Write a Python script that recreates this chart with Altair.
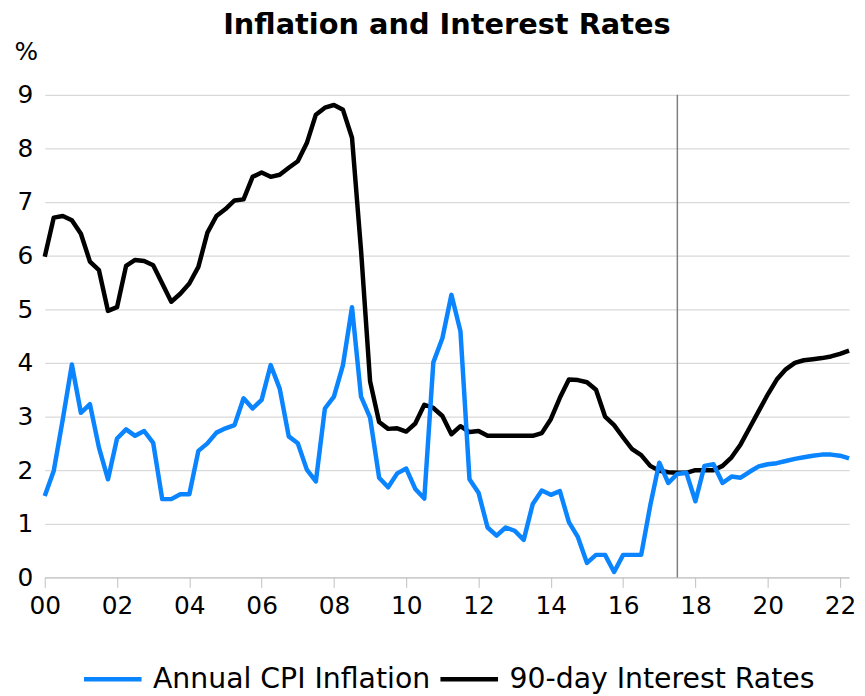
import altair as alt
import pandas as pd

# Quarterly observations, 2000 Q1 .. 2022 Q2
start_year = 2000
n_quarters = 90

rates_90day = [
    5.98, 6.71, 6.74, 6.66, 6.41, 5.89, 5.73, 4.97, 5.04, 5.81,
    5.92, 5.90, 5.82, 5.48, 5.14, 5.29, 5.48, 5.79, 6.43, 6.74,
    6.87, 7.03, 7.05, 7.47, 7.55, 7.47, 7.51, 7.64, 7.76, 8.10,
    8.63, 8.76, 8.81, 8.72, 8.20, 6.10, 3.66, 2.90, 2.77, 2.78,
    2.72, 2.87, 3.22, 3.16, 3.01, 2.67, 2.82, 2.71, 2.73, 2.64,
    2.64, 2.64, 2.64, 2.64, 2.64, 2.69, 2.95, 3.35, 3.69, 3.68,
    3.64, 3.50, 3.00, 2.84, 2.61, 2.39, 2.28, 2.08, 1.99, 1.96,
    1.95, 1.95, 2.00, 2.00, 2.00, 2.08, 2.24, 2.48, 2.79, 3.10,
    3.41, 3.69, 3.88, 4.00, 4.05, 4.07, 4.09, 4.12, 4.17, 4.23,
]

cpi_annual = [
    1.52, 1.99, 2.95, 3.97, 3.07, 3.23, 2.42, 1.83, 2.59, 2.76,
    2.64, 2.73, 2.51, 1.46, 1.46, 1.55, 1.55, 2.36, 2.50, 2.70,
    2.78, 2.84, 3.34, 3.15, 3.31, 3.96, 3.52, 2.63, 2.50, 2.01,
    1.79, 3.15, 3.37, 3.96, 5.04, 3.37, 2.98, 1.86, 1.68, 1.94,
    2.03, 1.65, 1.47, 4.01, 4.46, 5.27, 4.59, 1.83, 1.58, 0.93,
    0.78, 0.93, 0.87, 0.70, 1.37, 1.62, 1.54, 1.61, 1.03, 0.75,
    0.27, 0.42, 0.42, 0.10, 0.42, 0.42, 0.42, 1.34, 2.14, 1.76,
    1.93, 1.95, 1.42, 2.08, 2.11, 1.76, 1.88, 1.86, 1.97, 2.07,
    2.11, 2.13, 2.17, 2.21, 2.24, 2.27, 2.29, 2.29, 2.27, 2.22,
]

series_names = ["Annual CPI Inflation", "90-day Interest Rates"]
series_colors = ["#0A84FF", "#000000"]
year_ticks = list(range(2000, 2023))
y_ticks = list(range(0, 10))
marker_year = [2017.5]

years = [start_year + q / 4 for q in range(n_quarters)]
df = pd.DataFrame({
    "year": years * 2,
    "value": cpi_annual + rates_90day,
    "series": [series_names[0]] * n_quarters + [series_names[1]] * n_quarters,
})
marker_df = pd.DataFrame({"year": marker_year})

FONT = "DejaVu Sans"

x_enc = alt.X(
    "year:Q",
    scale=alt.Scale(domain=[2000, 2022.25], nice=False, zero=False),
    axis=alt.Axis(
        values=year_ticks,
        labelExpr="datum.value % 2 === 0 ? substring(toString(datum.value), 2) : ''",
        title=None,
        grid=False,
        domainColor="#BFBFBF",
        domainWidth=1,
        tickColor="#BFBFBF",
        tickSize=10,
        labelFontSize=25,
        labelFont=FONT,
        labelColor="#000000",
        labelPadding=6,
        labelOverlap=False,
        labelFlush=False,
    ),
)
y_enc = alt.Y(
    "value:Q",
    scale=alt.Scale(domain=[0, 9], nice=False),
    axis=alt.Axis(
        values=y_ticks,
        title="%",
        titleAngle=0,
        titleAlign="center",
        titleBaseline="alphabetic",
        titleX=-19,
        titleY=-36,
        titleFontSize=25,
        titleFont=FONT,
        titleFontWeight="normal",
        titleColor="#000000",
        grid=True,
        gridColor="#D9D9D9",
        gridWidth=1.3,
        domain=False,
        ticks=False,
        labelFontSize=25,
        labelFont=FONT,
        labelColor="#000000",
        labelPadding=12,
    ),
)
color_enc = alt.Color(
    "series:N",
    scale=alt.Scale(domain=series_names, range=series_colors),
    legend=alt.Legend(
        title=None,
        orient="none",
        direction="horizontal",
        legendX=37,
        legendY=557,
        symbolType="stroke",
        symbolSize=3364,
        symbolStrokeWidth=4.5,
        labelFontSize=28.5,
        labelFont=FONT,
        labelColor="#000000",
        labelOffset=9,
        columnPadding=0,
        labelLimit=400,
    ),
)

rule = alt.Chart(marker_df).mark_rule(color="#7F7F7F", strokeWidth=1.5).encode(x="year:Q")

black_line = alt.Chart(df).transform_filter(
    alt.datum.series == series_names[1]
).mark_line(strokeWidth=4.5, strokeJoin="round").encode(x=x_enc, y=y_enc, color=color_enc)

blue_line = alt.Chart(df).transform_filter(
    alt.datum.series == series_names[0]
).mark_line(strokeWidth=4.5, strokeJoin="round").encode(x=x_enc, y=y_enc, color=color_enc)

chart = alt.layer(rule, black_line, blue_line).properties(
    width=810,
    height=486,
    title=alt.TitleParams(
        "Inflation and Interest Rates",
        font=FONT,
        fontSize=29,
        fontWeight="bold",
        color="#000000",
        anchor="middle",
        frame="group",
        offset=-1,
    ),
    autosize=alt.AutoSizeParams(type="none"),
    padding={"left": 37, "top": 85, "right": 8, "bottom": 115},
).configure_view(stroke=None)

chart.save("out.html", embed_options={"renderer": "svg", "actions": False})
